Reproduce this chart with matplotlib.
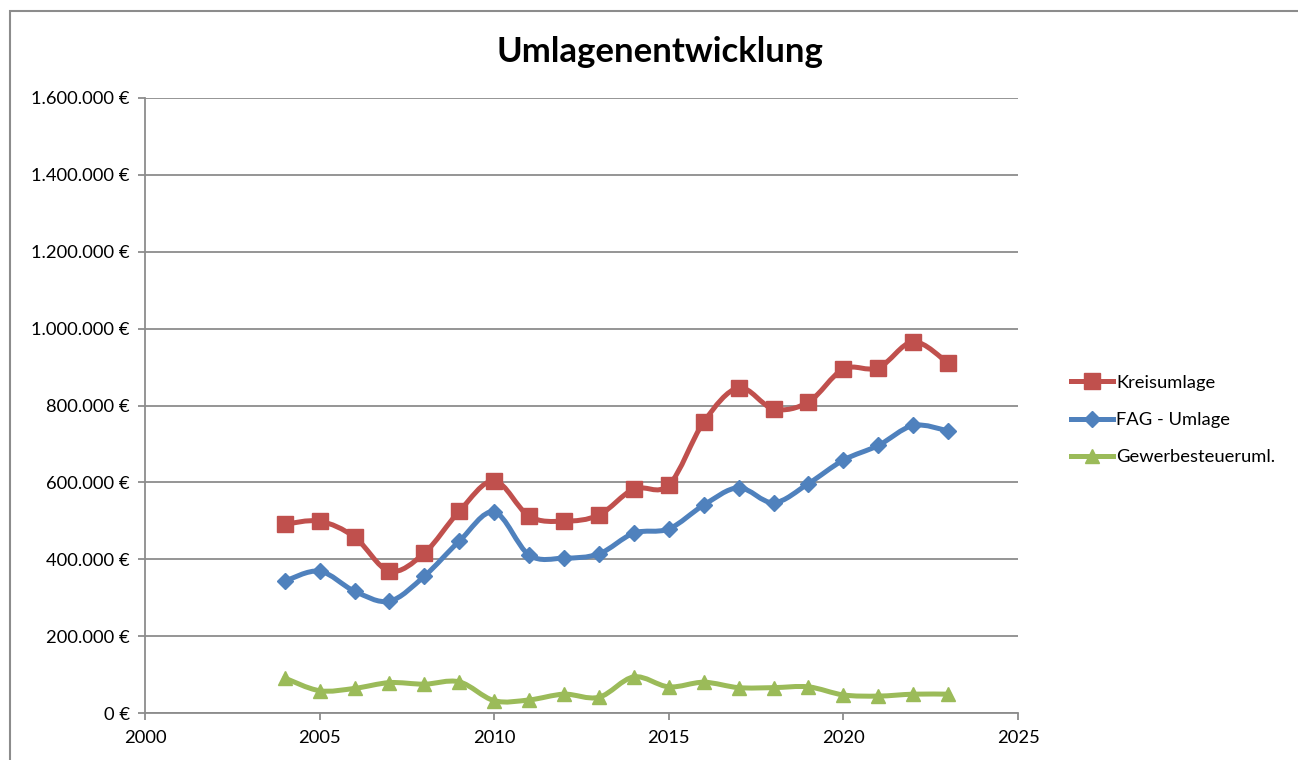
import numpy as np
import matplotlib.pyplot as plt
from matplotlib.path import Path
from matplotlib.patches import PathPatch, Rectangle
from matplotlib.ticker import FuncFormatter

plt.rcParams['font.family'] = ['Lato', 'DejaVu Sans']

# Daten
jahre = [2004, 2005, 2006, 2007, 2008, 2009, 2010, 2011, 2012, 2013,
         2014, 2015, 2016, 2017, 2018, 2019, 2020, 2021, 2022, 2023]
kreisumlage = [491000, 499000, 458000, 369000, 416000, 525000, 604000, 512000, 499000, 515000,
               583000, 593000, 757000, 846000, 791000, 809000, 895000, 898000, 966000, 910000]
fag_umlage = [343000, 369000, 317000, 291000, 356000, 447000, 523000, 411000, 403000, 414000,
              468000, 479000, 541000, 586000, 547000, 597000, 658000, 696000, 748000, 734000]
gewerbe = [91000, 58000, 64000, 79000, 75000, 81000, 32000, 34000, 49000, 41000,
           94000, 68000, 80000, 66000, 66000, 68000, 47000, 44000, 49000, 49000]

serien = ['Kreisumlage', 'FAG - Umlage', 'Gewerbesteueruml.']
farben = ['#C0504D', '#4F81BD', '#9BBB59']
marker = ['s', 'D', '^']
msize = [11, 8, 10.5]


def glatt(ax, x, y, farbe):
    # Excel-artige geglaettete Linie (Bezier-Kurven)
    x = np.asarray(x, float)
    y = np.asarray(y, float)
    pts = np.column_stack([x, y])
    verts = [pts[0]]
    codes = [Path.MOVETO]
    n = len(pts)
    for i in range(n - 1):
        p0 = pts[max(i - 1, 0)]
        p1 = pts[i]
        p2 = pts[i + 1]
        p3 = pts[min(i + 2, n - 1)]
        c1 = p1 + (p2 - p0) / 6
        c2 = p2 - (p3 - p1) / 6
        verts += [c1, c2, p2]
        codes += [Path.CURVE4] * 3
    ax.add_patch(PathPatch(Path(verts, codes), fill=False, edgecolor=farbe,
                           lw=3.6, capstyle='round', joinstyle='round', zorder=3))


fig = plt.figure(figsize=(12.98, 7.6), dpi=100)
ax = fig.add_axes([145 / 1298, 1 - 713 / 760, 873 / 1298, 615 / 760])

for werte, name, farbe, m, ms in zip([kreisumlage, fag_umlage, gewerbe], serien, farben, marker, msize):
    glatt(ax, jahre, werte, farbe)
    ax.plot(jahre, werte, linestyle='none', marker=m, markersize=ms, color=farbe, zorder=4)
    ax.plot([], [], color=farbe, lw=3.6, marker=m, markersize=ms, label=name)

ax.set_xlim(2000, 2025)
ax.set_ylim(0, 1600000)
ax.set_xticks(range(2000, 2026, 5))
ax.set_yticks(range(0, 1600001, 200000))


def euro(v, pos):
    return '{:,.0f} €'.format(v).replace(',', '.')


ax.yaxis.set_major_formatter(FuncFormatter(euro))
ax.grid(axis='y', color='#8C8C8C', lw=1.3)
ax.set_axisbelow(True)
for s in ['top', 'right']:
    ax.spines[s].set_visible(False)
for s in ['left', 'bottom']:
    ax.spines[s].set_color('#8C8C8C')
    ax.spines[s].set_linewidth(1.3)
ax.tick_params(axis='both', colors='#8C8C8C', labelcolor='black', labelsize=13.2,
               length=5, width=1.3, direction='out')
ax.tick_params(axis='y', pad=6)
ax.tick_params(axis='x', pad=7)

fig.text(660 / 1298, 1 - 52 / 760, 'Umlagenentwicklung', ha='center', va='center',
         fontsize=25, fontweight='bold')

ax.legend(loc='center left', bbox_to_anchor=(1054 / 1298, 1 - 420 / 760),
          bbox_transform=fig.transFigure, frameon=False, fontsize=13.2,
          handlelength=2.3, labelspacing=1.17, handletextpad=0.2)

fig.add_artist(Rectangle((10 / 1298, -0.05), 1.1, 1 - 11 / 760 + 0.05,
                         transform=fig.transFigure, fill=False, edgecolor='#8C8C8C', lw=1.5))

fig.savefig('out.png', dpi=100)
